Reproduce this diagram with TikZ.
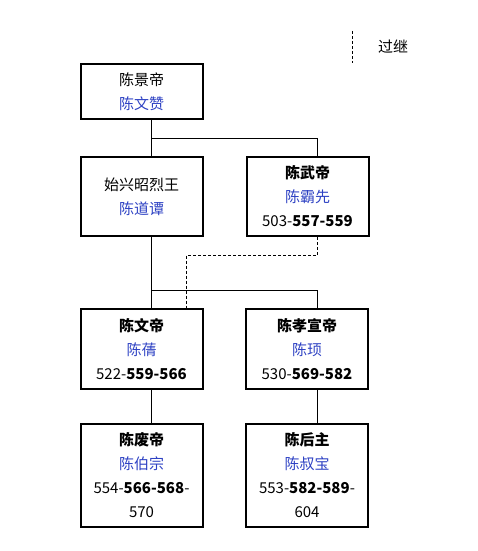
\documentclass[tikz,border=0pt]{standalone}
\usepackage{fontspec}
\setmainfont{Noto Sans CJK SC}
\definecolor{namecol}{RGB}{45,65,195}
\tikzset{
  person/.style={draw, line width=2pt, minimum width=122pt, align=center, inner sep=0pt,
    font=\fontsize{15}{24}\selectfont},
  link/.style={line width=0.9pt},
  adopt/.style={line width=0.9pt, dash pattern=on 3pt off 2pt},
}
\newcommand{\nm}[1]{\textcolor{namecol}{#1}}
\begin{document}
\begin{tikzpicture}[x=1pt,y=-1pt]
\useasboundingbox (0,0) rectangle (477,551);
\node[person, minimum height=55pt] (jing) at (141.5,91.5) {陈景帝\\\nm{陈文赞}};
\node[person, minimum height=79pt] (shixing) at (141.5,196.5) {始兴昭烈王\\\nm{陈道谭}};
\node[person, minimum height=79pt] (wu) at (307.5,196.5) {\textbf{陈武帝}\\\nm{陈霸先}\\503-\textbf{557-559}};
\node[person, minimum height=80pt] (wen) at (141.5,349) {\textbf{陈文帝}\\\nm{陈蒨}\\522-\textbf{559-566}};
\node[person, minimum height=80pt] (xuan) at (307,349) {\textbf{陈孝宣帝}\\\nm{陈顼}\\530-\textbf{569-582}};
\node[person, minimum height=103pt] (fei) at (141.5,475) {\textbf{陈废帝}\\\nm{陈伯宗}\\554-\textbf{566-568}-\\570};
\node[person, minimum height=103pt] (hou) at (307,475) {\textbf{陈后主}\\\nm{陈叔宝}\\553-\textbf{582-589}-\\604};
% connectors
\coordinate (j1) at ([xshift=10pt]jing.south);
\draw[link] (j1) -- (j1 |- shixing.north);
\draw[link] (j1) -- ++(0,18) -| ([xshift=10pt]wu.north);
\coordinate (s1) at ([xshift=10pt]shixing.south);
\draw[link] (s1) -- (s1 |- wen.north);
\draw[link] (s1) -- ++(0,53) -| ([xshift=10pt]xuan.north);
\draw[adopt] ([xshift=10pt]wu.south) -- ++(0,18) -| ([xshift=44.5pt]wen.north);
\draw[link] ([xshift=10pt]wen.south) -- ([xshift=10pt]fei.north);
\draw[link] ([xshift=10pt]xuan.south) -- ([xshift=10pt]hou.north);
% legend
\coordinate (la) at (352,31);
\coordinate (lb) at (352,63);
\draw[adopt] (la) -- (lb);
\node[font=\fontsize{15}{16}\selectfont] (legend) at (393,47) {过继};
\end{tikzpicture}
\end{document}
